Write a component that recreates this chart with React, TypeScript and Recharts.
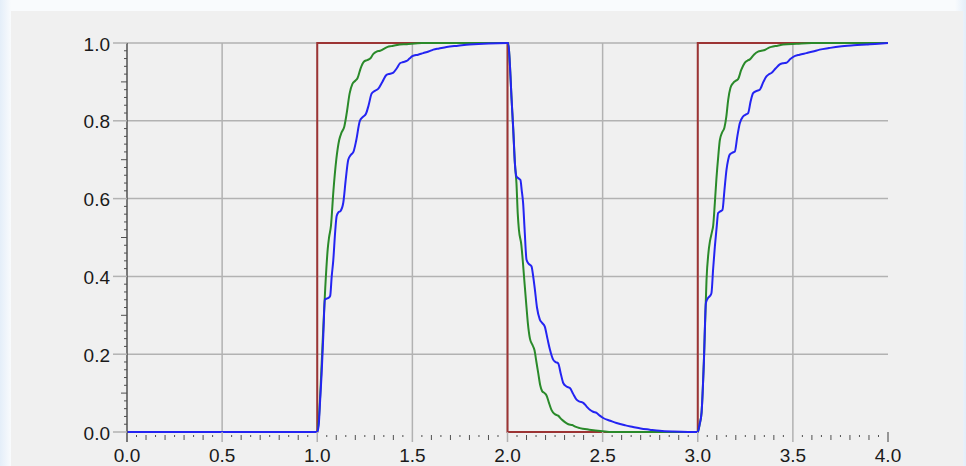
import React from 'react';
import { LineChart, Line, XAxis, YAxis, CartesianGrid } from 'recharts';

// square wave input
const redT = [0, 1, 1, 2, 2, 3, 3, 4];
const redV = [0, 0, 1, 1, 0, 0, 1, 1];

// faster response (green)
const greenT = [
  0, 1.0, 1.008, 1.018, 1.03, 1.042, 1.055, 1.062, 1.072, 1.085, 1.1, 1.115, 1.128, 1.142, 1.155, 1.17, 1.185,
  1.2, 1.212, 1.228, 1.245, 1.262, 1.278, 1.295, 1.312, 1.33, 1.35, 1.37, 1.39, 1.42, 1.47, 1.55,
  2.0, 2.004, 2.012, 2.021, 2.03, 2.039, 2.047, 2.054, 2.06, 2.073, 2.082, 2.09, 2.1, 2.107, 2.118, 2.13, 2.142,
  2.152, 2.162, 2.172, 2.182, 2.195, 2.205, 2.218, 2.231, 2.248, 2.266, 2.285, 2.3, 2.32, 2.34, 2.36, 2.38,
  2.43, 2.5, 2.55,
  3.0, 3.01, 3.02, 3.032, 3.04, 3.046, 3.056, 3.064, 3.075, 3.081, 3.09, 3.098, 3.108, 3.116, 3.128, 3.14, 3.15,
  3.16, 3.172, 3.186, 3.2, 3.212, 3.228, 3.247, 3.262, 3.274, 3.295, 3.317, 3.335, 3.352, 3.37, 3.387, 3.42,
  3.449, 3.52, 3.6, 4.0,
];
const greenV = [
  0, 0, 0.03, 0.12, 0.25, 0.37, 0.47, 0.5, 0.53, 0.62, 0.7, 0.75, 0.77, 0.785, 0.82, 0.87, 0.895,
  0.903, 0.91, 0.935, 0.952, 0.956, 0.96, 0.972, 0.978, 0.98, 0.985, 0.99, 0.992, 0.995, 0.997, 1.0,
  1.0, 1.0, 0.95, 0.86, 0.78, 0.69, 0.64, 0.56, 0.52, 0.48, 0.43, 0.38, 0.32, 0.28, 0.24, 0.225, 0.21,
  0.18, 0.15, 0.12, 0.105, 0.1, 0.094, 0.075, 0.057, 0.046, 0.042, 0.032, 0.026, 0.02, 0.018, 0.013, 0.01,
  0.006, 0.002, 0,
  0, 0.02, 0.05, 0.18, 0.3, 0.39, 0.46, 0.49, 0.515, 0.53, 0.59, 0.65, 0.71, 0.75, 0.77, 0.782, 0.81,
  0.854, 0.885, 0.897, 0.903, 0.907, 0.93, 0.949, 0.955, 0.958, 0.97, 0.978, 0.98, 0.982, 0.987, 0.99, 0.993,
  0.996, 0.998, 1.0, 1.0,
];

// slower response (blue)
const blueT = [
  0, 1.0, 1.008, 1.015, 1.023, 1.032, 1.04, 1.05, 1.06, 1.068, 1.076, 1.084, 1.095, 1.102, 1.112, 1.122, 1.137,
  1.15, 1.163, 1.176, 1.19, 1.205, 1.224, 1.24, 1.256, 1.27, 1.286, 1.303, 1.32, 1.342, 1.364, 1.382, 1.4,
  1.418, 1.435, 1.452, 1.47, 1.485, 1.5, 1.53, 1.557, 1.585, 1.61, 1.64, 1.68, 1.74, 1.8, 1.9,
  2.0, 2.004, 2.012, 2.021, 2.03, 2.039, 2.047, 2.058, 2.068, 2.075, 2.082, 2.09, 2.1, 2.112, 2.126, 2.135, 2.144,
  2.155, 2.17, 2.183, 2.196, 2.21, 2.223, 2.24, 2.252, 2.266, 2.28, 2.293, 2.31, 2.328, 2.345, 2.363, 2.38,
  2.398, 2.415, 2.433, 2.45, 2.468, 2.485, 2.503, 2.54, 2.573, 2.62, 2.66, 2.7, 2.748, 2.8, 2.87, 2.95,
  3.0, 3.01, 3.02, 3.032, 3.043, 3.055, 3.065, 3.072, 3.081, 3.09, 3.1, 3.107, 3.118, 3.13, 3.14, 3.151, 3.16,
  3.168, 3.182, 3.195, 3.208, 3.221, 3.238, 3.252, 3.265, 3.278, 3.291, 3.31, 3.326, 3.345, 3.361, 3.375, 3.387,
  3.41, 3.431, 3.45, 3.466, 3.485, 3.501, 3.535, 3.571, 3.605, 3.641, 3.69, 3.746, 3.82, 3.886, 3.95, 4.0,
];
const blueV = [
  0, 0, 0.02, 0.08, 0.15, 0.25, 0.34, 0.343, 0.345, 0.35, 0.4, 0.44, 0.52, 0.555, 0.565, 0.568, 0.59,
  0.65, 0.7, 0.712, 0.72, 0.75, 0.8, 0.81, 0.818, 0.84, 0.87, 0.877, 0.882, 0.9, 0.918, 0.921, 0.924,
  0.935, 0.948, 0.951, 0.954, 0.96, 0.966, 0.97, 0.974, 0.978, 0.983, 0.986, 0.99, 0.993, 0.996, 0.999,
  1.0, 1.0, 0.95, 0.86, 0.78, 0.69, 0.657, 0.652, 0.648, 0.62, 0.589, 0.52, 0.443, 0.432, 0.426, 0.4, 0.366,
  0.32, 0.289, 0.28, 0.271, 0.24, 0.212, 0.186, 0.18, 0.177, 0.15, 0.126, 0.117, 0.113, 0.098, 0.083, 0.078,
  0.075, 0.066, 0.057, 0.052, 0.049, 0.042, 0.036, 0.029, 0.023, 0.017, 0.013, 0.009, 0.006, 0.003, 0.001, 0,
  0, 0.02, 0.05, 0.177, 0.332, 0.345, 0.35, 0.357, 0.42, 0.477, 0.53, 0.563, 0.567, 0.571, 0.62, 0.674, 0.7,
  0.713, 0.718, 0.721, 0.76, 0.794, 0.811, 0.816, 0.82, 0.85, 0.871, 0.877, 0.88, 0.9, 0.914, 0.92, 0.923,
  0.935, 0.945, 0.948, 0.949, 0.958, 0.964, 0.97, 0.974, 0.978, 0.983, 0.987, 0.991, 0.994, 0.996, 0.998, 1.0,
];

const yGridTicks = [0.2, 0.4, 0.6, 0.8, 1.0];
const xGridTicks = [0.5, 1.0, 1.5, 2.0, 2.5, 3.0, 3.5];

// minor ticks: every 0.02 on y, every 0.05 on x
const yTicks = Array.from({ length: 51 }, (_, i) => i / 50);
const xTicks = Array.from({ length: 81 }, (_, i) => i / 20);

const toPoints = (t: number[], v: number[]) => t.map((x, i) => ({ t: x, v: v[i] }));

const redData = toPoints(redT, redV);
const greenData = toPoints(greenT, greenV);
const blueData = toPoints(blueT, blueV);

const GRID = '#b2b2b2';
const AXIS = '#505050';
const FONT = '"Liberation Sans", Arial, sans-serif';

const scaleOf = (axis: any) => {
  const s = axis && axis.scale;
  if (!s) return null;
  return typeof s === 'function' ? s : typeof s.map === 'function' ? (v: number) => s.map(v) : null;
};

const vGen = (p: any) => {
  const s = scaleOf(p.xAxis);
  if (s) return xGridTicks.map((v) => s(v));
  return xGridTicks.map((v) => p.offset.left + (v / 4) * p.offset.width);
};

const hGen = (p: any) => {
  const s = scaleOf(p.yAxis);
  if (s) return yGridTicks.map((v) => s(v));
  return yGridTicks.map((v) => p.offset.top + (1 - v) * p.offset.height);
};

const YTick = (props: any) => {
  const { x, y, payload } = props;
  const k = Math.round(payload.value * 50);
  const major = k % 10 === 0;
  const len = major ? 14 : k % 5 === 0 ? 6 : 3;
  return (
    <g>
      <line x1={x - len} x2={x} y1={y} y2={y} stroke={major ? GRID : AXIS} strokeWidth={major ? 1.5 : 1} />
      {major && (
        <text x={x - 17} y={y + 1} textAnchor="end" dominantBaseline="central" fontSize={19} fontFamily={FONT} fill="#1a1a1a">
          {payload.value.toFixed(1)}
        </text>
      )}
    </g>
  );
};

const XTick = (props: any) => {
  const { x, y, payload } = props;
  const k = Math.round(payload.value * 20);
  const major = k % 10 === 0;
  const mid = k % 2 === 0;
  return (
    <g>
      {major ? (
        <line x1={x} x2={x} y1={y} y2={y + 10} stroke={k === 0 ? AXIS : k === 80 ? '#777' : GRID} strokeWidth={1.5} />
      ) : (
        <line x1={x} x2={x} y1={y + 3} y2={y + (mid ? 8 : 5)} stroke={AXIS} strokeWidth={1} />
      )}
      {major && (
        <text x={x} y={y + 30} textAnchor="middle" fontSize={19} fontFamily={FONT} fill="#1a1a1a">
          {payload.value.toFixed(1)}
        </text>
      )}
    </g>
  );
};

export default function App() {
  return (
    <div
      style={{
        position: 'absolute',
        left: 0,
        top: 0,
        width: 966,
        height: 466,
        overflow: 'hidden',
        background: 'linear-gradient(to right, #e4eef9 0px, #f9fbfd 11px, #f9fbfd 955px, #e4eef9 966px)',
      }}
    >
      <div style={{ position: 'absolute', left: 11, top: 11, width: 952, height: 455, background: '#f0f0f0' }} />
      <div style={{ position: 'absolute', left: 0, top: 0 }}>
        <LineChart width={966} height={466} margin={{ top: 43, right: 78, bottom: 0, left: 0 }}>
          <CartesianGrid
            stroke={GRID}
            strokeWidth={1.5}
            verticalCoordinatesGenerator={vGen}
            horizontalCoordinatesGenerator={hGen}
          />
          <XAxis
            type="number"
            dataKey="t"
            domain={[0, 4]}
            ticks={xTicks}
            interval={0}
            height={34}
            axisLine={false}
            tickLine={false}
            tickSize={0}
            tickMargin={0}
            tick={<XTick />}
          />
          <YAxis
            type="number"
            domain={[0, 1]}
            ticks={yTicks}
            interval={0}
            width={127}
            axisLine={{ stroke: AXIS, strokeWidth: 1.5 }}
            tickLine={false}
            tickSize={0}
            tickMargin={0}
            tick={<YTick />}
          />
          <Line data={redData} dataKey="v" type="linear" stroke="#9c3434" strokeWidth={2} dot={false} isAnimationActive={false} />
          <Line data={greenData} dataKey="v" type="monotone" stroke="#2a8a2a" strokeWidth={2} dot={false} isAnimationActive={false} />
          <Line data={blueData} dataKey="v" type="monotone" stroke="#2424f2" strokeWidth={2} dot={false} isAnimationActive={false} />
        </LineChart>
      </div>
    </div>
  );
}
